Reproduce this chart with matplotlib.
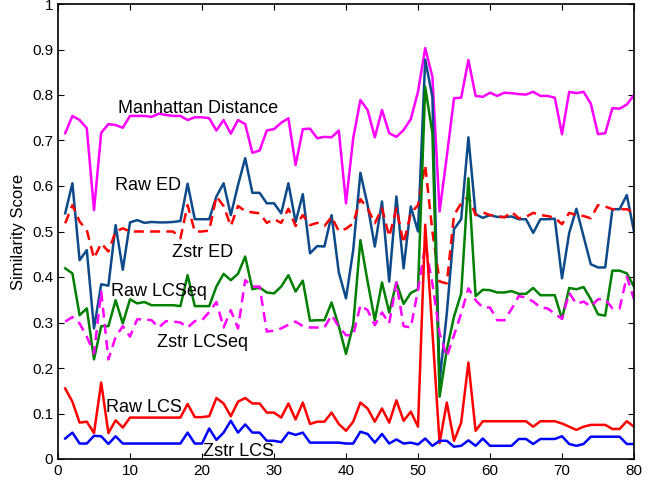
import matplotlib
matplotlib.use("Agg")
import matplotlib.pyplot as plt
import numpy as np

plt.rcParams['font.family'] = ['Liberation Sans', 'DejaVu Sans']

# x positions 1..80
idx = list(range(1, 81))

manhattan = [.716, .754, .745, .727, .547, .717, .736, .734, .728, .754,
             .754, .754, .752, .759, .756, .754, .754, .745, .751, .751,
             .749, .722, .745, .715, .745, .736, .673, .678, .722, .725,
             .739, .749, .646, .725, .726, .705, .708, .707, .722, .562,
             .705, .789, .767, .707, .767, .716, .708, .723, .747, .807,
             .903, .840, .544, .665, .793, .794, .877, .798, .796, .805,
             .798, .805, .804, .802, .801, .807, .798, .798, .794, .714,
             .807, .804, .807, .781, .714, .716, .771, .770, .779, .800]

raw_ed = [.540, .606, .437, .459, .287, .384, .381, .514, .416, .520,
          .525, .519, .521, .520, .520, .521, .523, .605, .527, .527,
          .527, .577, .606, .536, .602, .661, .585, .585, .562, .562,
          .540, .606, .521, .582, .452, .468, .467, .536, .410, .353,
          .459, .629, .558, .467, .566, .390, .577, .419, .555, .500,
          .878, .796, .170, .320, .505, .527, .707, .538, .530, .536,
          .532, .532, .533, .527, .527, .497, .527, .527, .528, .397,
          .497, .550, .489, .428, .421, .421, .549, .549, .580, .500]

zstr_ed = [.518, .558, .522, .503, .441, .474, .456, .500, .507, .500,
           .500, .500, .500, .500, .500, .500, .485, .558, .500, .500,
           .502, .577, .556, .512, .556, .545, .542, .540, .519, .527,
           .519, .550, .512, .536, .514, .519, .512, .532, .501, .506,
           .518, .571, .551, .518, .551, .489, .551, .474, .540, .558,
           .646, .500, .390, .386, .536, .562, .577, .536, .542, .536,
           .534, .531, .543, .529, .532, .541, .536, .534, .530, .516,
           .541, .536, .534, .529, .558, .555, .549, .549, .549, .541]

raw_lcseq = [.419, .408, .316, .331, .219, .292, .292, .349, .298, .351,
             .342, .345, .338, .338, .338, .338, .336, .404, .336, .336,
             .336, .379, .407, .393, .407, .445, .373, .377, .366, .364,
             .379, .404, .368, .392, .304, .305, .305, .344, .292, .231,
             .295, .481, .390, .305, .388, .322, .388, .341, .365, .373,
             .818, .716, .137, .240, .313, .364, .617, .358, .372, .371,
             .366, .366, .369, .363, .363, .376, .360, .360, .360, .308,
             .376, .373, .378, .351, .318, .315, .414, .414, .408, .379]

zstr_lcseq = [.302, .312, .298, .269, .232, .368, .219, .268, .292, .269,
              .307, .307, .305, .289, .303, .302, .300, .289, .303, .305,
              .323, .345, .289, .327, .287, .393, .379, .379, .280, .282,
              .287, .295, .302, .292, .289, .289, .289, .316, .291, .272,
              .272, .338, .327, .294, .322, .298, .388, .292, .289, .371,
              .470, .386, .276, .225, .272, .320, .375, .349, .333, .333,
              .305, .305, .330, .358, .355, .346, .333, .331, .319, .308,
              .365, .341, .346, .335, .351, .351, .331, .331, .401, .351]

raw_lcs = [.155, .126, .080, .082, .057, .168, .057, .085, .069, .091,
           .091, .091, .091, .091, .091, .091, .091, .121, .092, .092,
           .094, .134, .122, .094, .126, .134, .122, .122, .102, .102,
           .091, .122, .087, .124, .077, .082, .082, .102, .077, .062,
           .082, .124, .111, .082, .111, .080, .129, .084, .104, .071,
           .515, .280, .035, .124, .040, .080, .212, .062, .083, .083,
           .083, .083, .083, .083, .083, .071, .083, .083, .083, .078,
           .071, .064, .071, .075, .075, .075, .066, .066, .083, .071]

zstr_lcs = [.045, .058, .034, .034, .051, .050, .033, .050, .034, .034,
            .034, .034, .034, .034, .034, .034, .034, .058, .034, .034,
            .067, .042, .058, .084, .058, .076, .058, .058, .040, .040,
            .037, .058, .053, .058, .036, .036, .036, .036, .036, .034,
            .034, .060, .055, .036, .055, .034, .043, .034, .036, .032,
            .045, .029, .040, .040, .027, .029, .041, .029, .045, .029,
            .029, .029, .029, .044, .044, .033, .044, .044, .044, .050,
            .033, .029, .033, .049, .049, .049, .049, .049, .033, .033]

fig = plt.figure(figsize=(6.57, 4.87), dpi=100)
ax = fig.add_axes([58 / 657, 28 / 487, 576 / 657, 455 / 487])

lw = 1.8
dash = (0, (4, 2.5))
ax.plot(idx, manhattan, color='#ff00ff', lw=lw)
ax.plot(idx, raw_ed, color='#0c4a8a', lw=lw)
ax.plot(idx, zstr_ed, color='#ff0000', lw=lw, ls=dash)
ax.plot(idx, raw_lcseq, color='#008000', lw=lw)
ax.plot(idx, zstr_lcseq, color='#ff00ff', lw=lw, ls=dash)
ax.plot(idx, raw_lcs, color='#ff0000', lw=lw)
ax.plot(idx, zstr_lcs, color='#0000ff', lw=lw)

fs = 13
ax.text(8.3, 0.771, 'Manhattan Distance', fontsize=fs, va='center')
ax.text(7.9, 0.602, 'Raw ED', fontsize=fs, va='center')
ax.text(15.8, 0.453, 'Zstr ED', fontsize=fs, va='center')
ax.text(7.3, 0.368, 'Raw LCSeq', fontsize=fs, va='center')
ax.text(13.8, 0.257, 'Zstr LCSeq', fontsize=fs, va='center')
ax.text(6.7, 0.113, 'Raw LCS', fontsize=fs, va='center')
ax.text(20.2, 0.016, 'Zstr LCS', fontsize=fs, va='center')

ax.set_xlim(0, 80)
ax.set_ylim(0, 1)
ax.set_xticks(np.arange(0, 81, 10))
ax.set_yticks(np.arange(0, 1.01, 0.1))
ax.set_yticklabels(['0', '0.1', '0.2', '0.3', '0.4', '0.5', '0.6', '0.7', '0.8', '0.9', '1'])
ax.tick_params(direction='in', top=True, right=True, labelsize=11, length=4)
ax.set_ylabel('Similarity Score', fontsize=12)
for s in ax.spines.values():
    s.set_linewidth(1.2)

plt.savefig('out.png', dpi=100)
